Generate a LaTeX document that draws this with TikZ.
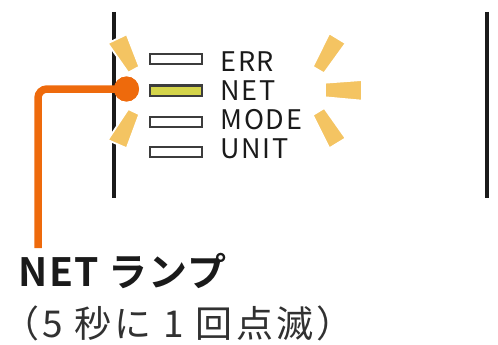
\documentclass[tikz,border=0pt]{standalone}
\usepackage{fontspec}
\setmainfont{Noto Sans CJK JP}
\newfontfamily\jpbold[LetterSpace=3]{Noto Sans CJK JP Bold}
\newfontfamily\jplabel[LetterSpace=6]{Noto Sans CJK JP}
\newfontfamily\jpcap[LetterSpace=9]{Noto Sans CJK JP}
\definecolor{orng}{HTML}{EE6A0C}
\definecolor{ray}{HTML}{F4C462}
\definecolor{ledon}{HTML}{D4D44A}
\definecolor{ink}{HTML}{1A1A1A}
\begin{document}
\begin{tikzpicture}[x=1pt,y=-1pt,
  frame/.style={ink,line width=4.3pt},
  rayshape/.style={fill=ray,draw=white,line width=1.8pt,line join=miter},
  led/.style={draw=ink!85,line width=2pt,minimum width=52pt,minimum height=10pt,inner sep=0pt,outer sep=0pt},
  ledlabel/.style={anchor=base west,inner sep=0pt,font=\jplabel\fontsize{27}{29}\selectfont,text=ink},
  conn/.style={orng,line width=7.5pt,rounded corners=9pt}]
\useasboundingbox (0,0) rectangle (498,345);
% frame lines
\coordinate (lt) at (114.3,12);
\coordinate (lb) at (114.3,198);
\coordinate (rt) at (487,12);
\coordinate (rb) at (487,198);
\draw[frame] (lt) -- (lb);
\draw[frame] (rt) -- (rb);
% rays
\fill[rayshape] (107.7,43.3) -- (126.7,34.3) -- (139.3,66.7) -- (128.3,72.7) -- cycle;
\fill[rayshape] (128.3,109) -- (139.3,114.3) -- (126.7,148.3) -- (107.7,140) -- cycle;
\fill[rayshape] (312.7,66.7) -- (329.3,33.3) -- (345.7,43.3) -- (324,73.3) -- cycle;
\fill[rayshape] (325,82.7) -- (362,80) -- (362,100.7) -- (325,97.3) -- cycle;
\fill[rayshape] (312.7,115) -- (324.3,108) -- (345.7,138.3) -- (329.3,148.3) -- cycle;
% LEDs
\node[led,fill=white] (err) at (176.3,59.3) {};
\node[led,fill=ledon] (net) at (176.3,90.5) {};
\node[led,fill=white] (mode) at (176.3,121.5) {};
\node[led,fill=white] (unit) at (176.3,152) {};
\node[ledlabel] (terr) at (220.5,71.7) {ERR};
\node[ledlabel] (tnet) at (220.5,100) {NET};
\node[ledlabel] (tmode) at (220.5,129.3) {MODE};
\node[ledlabel] (tunit) at (220.5,158.3) {UNIT};
% connector
\node[circle,fill=orng,minimum size=25pt,inner sep=0pt] (dot) at (126.5,89) {};
\coordinate (cend) at (38,248);
\draw[conn] (dot.center) -| (cend);
\node[circle,fill=orng,minimum size=25pt,inner sep=0pt] at (dot.center) {};
% captions
\node[anchor=base west,inner sep=0pt,font=\jpbold\fontsize{39}{42}\selectfont,text=ink] (cap1) at (18.5,286.7) {NET ランプ};
\node[anchor=base west,inner sep=0pt,font=\jpcap\fontsize{37}{40}\selectfont,text=ink!90] (cap2) at (2,337) {（5 秒に 1 回点滅）};
\end{tikzpicture}
\end{document}
